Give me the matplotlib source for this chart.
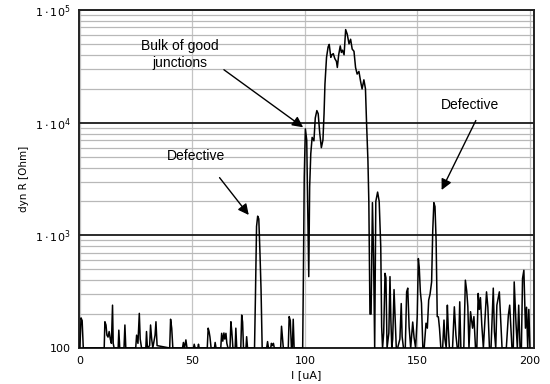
import matplotlib
matplotlib.use('Agg')
import matplotlib.pyplot as plt
from matplotlib.ticker import FixedLocator, LogLocator, NullFormatter

# current sweep [uA] and dynamic resistance [Ohm]
# (ten points per row, same row layout in both lists)
current_uA = [
    0, 0.5, 1.0, 1.5, 10.8, 11.1, 11.6, 12.0, 12.5, 13.0,
    13.5, 14.0, 14.5, 14.8, 15.2, 17.0, 17.3, 17.7, 19.6, 20.0,
    20.4, 24.8, 25.2, 25.8, 26.4, 26.8, 27.4, 29.3, 29.6, 30.0,
    31.0, 31.4, 31.9, 32.4, 33.4, 33.8, 34.3, 39.9, 40.3, 40.8,
    41.3, 45.6, 46.0, 46.5, 47.1, 47.6, 50.5, 50.8, 51.2, 52.4,
    52.7, 53.0, 56.6, 57.0, 57.4, 57.8, 58.3, 59.8, 60.1, 60.5,
    62.6, 63.0, 63.5, 64.0, 64.4, 64.9, 65.3, 65.8, 66.7, 67.1,
    67.5, 68.0, 69.0, 69.3, 69.7, 71.5, 71.9, 72.3, 72.7, 73.8,
    74.1, 74.5, 77.6, 78.0, 78.5, 79.0, 79.5, 80.0, 80.5, 81.0,
    83.0, 83.4, 83.8, 84.8, 85.1, 85.5, 86.0, 86.4, 89.2, 89.6,
    90.0, 90.4, 92.6, 93.0, 93.5, 94.0, 94.4, 94.8, 95.2, 99.0,
    99.3, 99.7, 100.2, 100.8, 101.3, 101.7, 102.1, 102.6, 103.2, 104.0,
    104.6, 105.3, 105.9, 106.6, 107.3, 108.0, 108.5, 108.9, 109.6, 110.3,
    110.8, 111.5, 112.0, 112.6, 113.3, 114.0, 114.4, 115.0, 115.7, 116.2,
    116.7, 117.4, 118.1, 118.8, 119.6, 120.3, 121.0, 121.8, 122.5, 123.2,
    124.0, 124.7, 125.4, 126.2, 126.9, 127.4, 128.0, 128.4, 128.9, 129.4,
    130.0, 130.5, 131.0, 131.5, 132.3, 133.0, 133.7, 134.1, 134.5, 135.0,
    135.6, 136.0, 136.5, 137.3, 137.8, 138.2, 138.6, 139.0, 139.6, 140.1,
    140.6, 141.2, 142.2, 142.8, 143.2, 143.8, 144.6, 145.2, 145.7, 146.3,
    147.0, 147.9, 148.5, 149.2, 149.9, 150.4, 150.8, 151.3, 151.8, 152.4,
    153.0, 153.8, 154.4, 155.0, 155.6, 156.3, 156.8, 157.3, 157.8, 158.3,
    158.8, 159.3, 159.8, 160.4, 161.2, 161.8, 162.2, 162.8, 163.3, 163.7,
    164.2, 164.8, 165.6, 166.4, 167.1, 167.7, 168.3, 168.8, 169.3, 169.9,
    170.6, 171.3, 171.9, 172.4, 172.9, 173.6, 174.5, 175.1, 175.8, 176.4,
    177.0, 177.5, 178.0, 178.6, 179.3, 180.7, 181.3, 182.0, 182.7, 183.7,
    184.2, 184.8, 185.3, 186.4, 187.0, 187.6, 189.5, 190.4, 191.0, 192.0,
    192.6, 193.0, 193.8, 194.4, 195.0, 195.6, 196.2, 196.7, 197.3, 198.0,
    198.5, 199.0, 199.5, 200.0,
]
dyn_r_ohm = [
    100, 185, 175, 100, 100, 171, 160, 130, 125, 140,
    120, 110, 240, 110, 100, 100, 144, 100, 100, 160,
    100, 100, 130, 110, 203, 120, 100, 100, 140, 100,
    105, 160, 120, 100, 130, 171, 105, 100, 180, 150,
    100, 100, 112, 100, 118, 100, 100, 108, 100, 100,
    108, 100, 100, 150, 140, 125, 100, 100, 112, 100,
    100, 135, 115, 136, 120, 135, 110, 100, 100, 171,
    140, 100, 100, 150, 100, 100, 196, 170, 100, 100,
    126, 100, 100, 280, 1200, 1480, 1400, 720, 330, 100,
    100, 114, 100, 100, 110, 105, 110, 100, 100, 156,
    125, 100, 100, 190, 175, 100, 100, 180, 100, 100,
    400, 3300, 8800, 7000, 1500, 430, 2700, 5300, 7400, 6900,
    11000, 12800, 12000, 8000, 6000, 7000, 12000, 22000, 38000, 47000,
    49500, 38000, 40000, 41000, 37000, 35000, 30900, 40000, 48000, 42000,
    44000, 40000, 67000, 61000, 50000, 55000, 45000, 43000, 30900, 27000,
    28500, 23500, 19900, 24000, 20000, 9800, 4600, 2000, 200, 200,
    1950, 650, 100, 2000, 2420, 2000, 790, 154, 100, 136,
    460, 420, 100, 136, 430, 177, 100, 120, 330, 180,
    100, 100, 120, 248, 126, 100, 100, 315, 340, 154,
    100, 170, 124, 100, 189, 622, 520, 315, 250, 100,
    100, 166, 150, 266, 300, 386, 1100, 1950, 1800, 900,
    190, 189, 150, 100, 100, 177, 120, 100, 240, 150,
    100, 100, 100, 232, 130, 100, 100, 257, 100, 100,
    100, 400, 320, 232, 100, 210, 150, 190, 100, 100,
    305, 220, 280, 160, 100, 315, 230, 100, 100, 340,
    140, 100, 240, 315, 180, 100, 100, 195, 240, 100,
    100, 386, 165, 100, 240, 100, 100, 414, 490, 150,
    230, 100, 220, 100,
]

x_ticks = [0, 50, 100, 150, 200]
y_ticks = [100, 1e3, 1e4, 1e5]
y_tick_labels = ['100', r'$1\cdot10^{3}$', r'$1\cdot10^{4}$', r'$1\cdot10^{5}$']

fig = plt.figure(figsize=(5.5, 3.84), dpi=100)
ax = fig.add_axes([79 / 550, 1 - 348 / 384, (534 - 79) / 550, (348 - 10) / 384])

ax.plot(current_uA, dyn_r_ohm, color='black', lw=1.1, zorder=3)

ax.set_yscale('log')
ax.set_xlim(-0.4, 201.8)
ax.set_ylim(100, 1e5)

# grid: gray minor decade lines, black decade lines, gray vertical lines
ax.yaxis.set_major_locator(FixedLocator(y_ticks))
ax.yaxis.set_minor_locator(LogLocator(base=10, subs=range(2, 10)))
ax.yaxis.set_minor_formatter(NullFormatter())
ax.set_yticklabels(y_tick_labels)
ax.set_xticks(x_ticks)
ax.grid(True, which='minor', axis='y', color='#b8b8b8', lw=0.9)
ax.grid(True, which='major', axis='y', color='#1a1a1a', lw=1.3)
ax.grid(True, which='major', axis='x', color='#c4c4c4', lw=0.9)
ax.set_axisbelow(True)

ax.tick_params(which='both', length=0, labelsize=8, pad=6)
for s in ax.spines.values():
    s.set_linewidth(1.4)
    s.set_color('#222222')

ax.set_xlabel('I [uA]', fontsize=8, labelpad=3)
ax.set_ylabel('dyn R [Ohm]', fontsize=7.5, labelpad=4)

txt = dict(fontsize=10, family='Liberation Sans', ha='center', va='center', zorder=5)
arrow = dict(arrowstyle='-|>', color='black', lw=1.0, mutation_scale=16)

ax.text(44.5, 4.0e4, 'Bulk of good\njunctions', linespacing=1.3, **txt)
ax.annotate('', xy=(100.2, 8800), xytext=(63, 30500), arrowprops=arrow, zorder=5)

ax.text(51.5, 5100, 'Defective', **txt)
ax.annotate('', xy=(75.8, 1450), xytext=(61.3, 3400), arrowprops=arrow, zorder=5)

ax.text(173.5, 14400, 'Defective', **txt)
ax.annotate('', xy=(160.2, 2400), xytext=(176.5, 11000), arrowprops=arrow, zorder=5)

fig.savefig('out.png', dpi=100)
